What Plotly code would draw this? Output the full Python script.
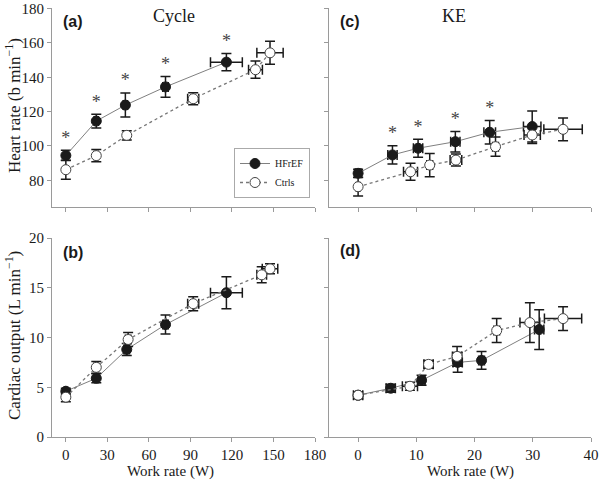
import plotly.graph_objects as go
from plotly.subplots import make_subplots

# ---- Cycle: heart rate (a)
cyc_hf_x_hr = [0, 22, 43, 72, 116]
cyc_hf_xerr_hr = [0.5, 1.5, 1.5, 2, 11.5]
cyc_hf_hr = [94.5, 114.5, 123.8, 134.4, 148.8]
cyc_hf_hr_err = [3, 4, 7, 6, 5]
cyc_hf_star = [1, 1, 1, 1, 1]

cyc_ct_x_hr = [0, 22, 44, 92, 137, 147.5]
cyc_ct_xerr_hr = [0.5, 1.5, 2, 4, 5, 9.5]
cyc_ct_hr = [86.2, 94.4, 106.2, 127.5, 144.4, 154.2]
cyc_ct_hr_err = [5.5, 3.5, 2.7, 3.5, 5, 6.7]

# ---- Cycle: cardiac output (b)
cyc_hf_x_co = [0, 22, 44, 72, 116]
cyc_hf_xerr_co = [0.5, 1.5, 2, 2, 11.5]
cyc_hf_co = [4.6, 5.9, 8.8, 11.3, 14.5]
cyc_hf_co_err = [0.3, 0.45, 0.6, 0.95, 1.6]

cyc_ct_x_co = [0, 22, 45, 92, 141.5, 147.5]
cyc_ct_xerr_co = [0.5, 1.5, 2, 4, 3.5, 5.6]
cyc_ct_co = [4.0, 7.0, 9.8, 13.4, 16.3, 16.9]
cyc_ct_co_err = [0.45, 0.6, 0.7, 0.7, 0.8, 0.5]

# ---- KE: heart rate (c)
ke_hf_x_hr = [0, 5.9, 10.3, 16.7, 22.6, 29.9]
ke_hf_xerr_hr = [0.5, 0.8, 0.8, 0.8, 1, 1.5]
ke_hf_hr = [84.1, 94.8, 98.7, 102.5, 108, 111.3]
ke_hf_hr_err = [2.3, 5.3, 5.2, 6, 6.8, 9]
ke_hf_star = [0, 1, 1, 1, 1, 0]

ke_ct_x_hr = [0, 9, 12.3, 16.8, 23.6, 29.9, 35.2]
ke_ct_xerr_hr = [0.3, 1.2, 0.5, 1, 0.5, 1.4, 3.3]
ke_ct_hr = [76.3, 85, 88.9, 91.8, 99.6, 106.4, 109.7]
ke_ct_hr_err = [5.4, 4.9, 6.8, 3.5, 5.6, 5, 6.6]

# ---- KE: cardiac output (d)
ke_hf_x_co = [0, 5.6, 10.9, 17.1, 21.2, 31.1]
ke_hf_xerr_co = [0.8, 0.8, 0.6, 0.8, 0.5, 0.8]
ke_hf_co = [4.2, 4.9, 5.7, 7.5, 7.7, 10.8]
ke_hf_co_err = [0.35, 0.4, 0.5, 1.0, 0.9, 2.0]

ke_ct_x_co = [0, 8.9, 12.1, 17, 23.8, 29.5, 35.2]
ke_ct_xerr_co = [0.3, 1.3, 0.8, 0.8, 0.5, 1.7, 3.2]
ke_ct_co = [4.2, 5.1, 7.3, 8.1, 10.7, 11.5, 11.9]
ke_ct_co_err = [0.3, 0.4, 0.4, 1.0, 1.2, 2.0, 1.2]

SERIF = "Liberation Serif"
SANS = "Liberation Sans"
INK = "#1a1a1a"
AXIS = "#9a9a9a"

fig = make_subplots(rows=2, cols=2)


def add_group(x, xerr, y, yerr, row, col, hf, legend=False):
    fig.add_trace(go.Scatter(
        x=x, y=y,
        mode="lines+markers",
        name="HFrEF" if hf else "Ctrls",
        showlegend=legend,
        line=dict(color="#808080" if hf else "#777777", width=1 if hf else 1.3,
                  dash="solid" if hf else "dot"),
        marker=dict(size=10, symbol="circle",
                    color=INK if hf else "white",
                    line=dict(color=INK if hf else "#444444", width=1)),
        error_y=dict(type="data", array=yerr, color=INK, thickness=1.5, width=5),
        error_x=dict(type="data", array=xerr, color=INK, thickness=1.5, width=5),
    ), row=row, col=col)


def add_stars(x, y, yerr, flags, row, col, gap):
    sx = [a for a, f in zip(x, flags) if f]
    sy = [b + e + gap for b, e, f in zip(y, yerr, flags) if f]
    fig.add_trace(go.Scatter(
        x=sx, y=sy, mode="text", text=["*"] * len(sx), showlegend=False,
        textposition="middle center",
        textfont=dict(family=SERIF, size=18, color="#444444"),
    ), row=row, col=col)


add_group(cyc_hf_x_hr, cyc_hf_xerr_hr, cyc_hf_hr, cyc_hf_hr_err, 1, 1, True, True)
add_group(cyc_ct_x_hr, cyc_ct_xerr_hr, cyc_ct_hr, cyc_ct_hr_err, 1, 1, False, True)
add_stars(cyc_hf_x_hr, cyc_hf_hr, cyc_hf_hr_err, cyc_hf_star, 1, 1, 6.5)

add_group(cyc_hf_x_co, cyc_hf_xerr_co, cyc_hf_co, cyc_hf_co_err, 2, 1, True)
add_group(cyc_ct_x_co, cyc_ct_xerr_co, cyc_ct_co, cyc_ct_co_err, 2, 1, False)

add_group(ke_hf_x_hr, ke_hf_xerr_hr, ke_hf_hr, ke_hf_hr_err, 1, 2, True)
add_group(ke_ct_x_hr, ke_ct_xerr_hr, ke_ct_hr, ke_ct_hr_err, 1, 2, False)
add_stars(ke_hf_x_hr, ke_hf_hr, ke_hf_hr_err, ke_hf_star, 1, 2, 6.5)

add_group(ke_hf_x_co, ke_hf_xerr_co, ke_hf_co, ke_hf_co_err, 2, 2, True)
add_group(ke_ct_x_co, ke_ct_xerr_co, ke_ct_co, ke_ct_co_err, 2, 2, False)

axis_style = dict(
    showline=True, linecolor=AXIS, linewidth=1, showgrid=False, zeroline=False,
    ticks="outside", ticklen=4, tickcolor=AXIS, automargin=False,
    tickfont=dict(family=SERIF, size=15, color=INK),
)

left_dom = [52 / 600, 315 / 600]
right_dom = [329 / 600, 591 / 600]
top_dom = [1 - 207 / 480, 1 - 8 / 480]
bot_dom = [1 - 437 / 480, 1 - 238 / 480]

fig.update_xaxes(axis_style)
fig.update_yaxes(axis_style)

fig.update_xaxes(row=1, col=1, domain=left_dom, range=[-10, 180], dtick=30, showticklabels=False)
fig.update_xaxes(row=2, col=1, domain=left_dom, range=[-10, 180], dtick=30)
fig.update_xaxes(row=1, col=2, domain=right_dom, range=[-5, 40], dtick=10, showticklabels=False)
fig.update_xaxes(row=2, col=2, domain=right_dom, range=[-5, 40], dtick=10)

fig.update_yaxes(row=1, col=1, domain=top_dom, range=[64.5, 180.3], dtick=20)
fig.update_yaxes(row=1, col=2, domain=top_dom, range=[64.5, 180.3], dtick=20, showticklabels=False)
fig.update_yaxes(row=2, col=1, domain=bot_dom, range=[0, 20], dtick=5)
fig.update_yaxes(row=2, col=2, domain=bot_dom, range=[0, 20], dtick=5, showticklabels=False)


def paper_text(txt, px_, py_, font, angle=0):
    fig.add_annotation(x=px_ / 600, y=1 - py_ / 480, xref="paper", yref="paper", text=txt,
                       showarrow=False, xanchor="center", yanchor="middle",
                       textangle=angle, font=font)


label_font = dict(family=SANS, size=16, color=INK)
paper_text("<b>(a)</b>", 73, 22, label_font)
paper_text("<b>(c)</b>", 350, 22, label_font)
paper_text("<b>(b)</b>", 73, 252, label_font)
paper_text("<b>(d)</b>", 350, 250, label_font)

head_font = dict(family=SERIF, size=18, color=INK)
paper_text("Cycle", 174, 16, head_font)
paper_text("KE", 454, 16, head_font)

axt_font = dict(family=SERIF, size=15, color=INK)
paper_text("Work rate (W)", 170, 471, axt_font)
paper_text("Work rate (W)", 470, 471, axt_font)
yt_font = dict(family=SERIF, size=17, color=INK)
paper_text("Heart rate (b min<sup>−1</sup>)", 13, 106, yt_font, -90)
paper_text("Cardiac output (L min<sup>−1</sup>)", 13, 336, yt_font, -90)

fig.update_layout(
    width=600, height=480,
    margin=dict(l=0, r=0, t=0, b=0),
    paper_bgcolor="white", plot_bgcolor="white",
    legend=dict(x=234 / 600, y=1 - 148 / 480, xanchor="left", yanchor="top",
                bgcolor="white", bordercolor="#aaaaaa", borderwidth=1,
                font=dict(family=SERIF, size=10, color=INK),
                itemwidth=30, tracegroupgap=0),
    showlegend=True,
)

# the page's default body margin would push the chart 8px right and down
fig.write_html("out.html", config={"displayModeBar": False},
               post_script="document.body.style.margin = '0';")
